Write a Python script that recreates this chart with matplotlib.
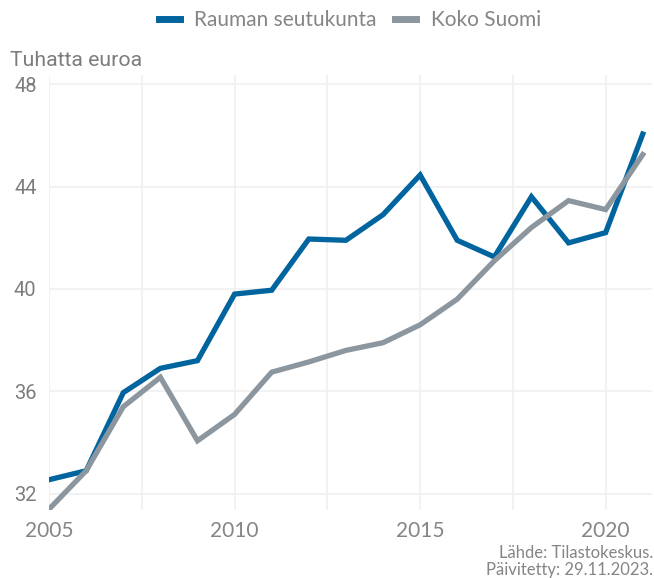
import numpy as np
import matplotlib
matplotlib.use("Agg")
from matplotlib import pyplot as plt

# data (tuhatta euroa)
years = list(range(2005, 2022))
rauma = [32.55, 32.9, 35.95, 36.9, 37.2, 39.8, 39.95, 41.95, 41.9, 42.9,
         44.45, 41.9, 41.25, 43.6, 41.8, 42.2, 46.05]
suomi = [31.4, 32.9, 35.4, 36.55, 34.07, 35.1, 36.75, 37.15, 37.6, 37.9,
         38.6, 39.6, 41.1, 42.4, 43.45, 43.1, 45.25]
series_names = ["Rauman seutukunta", "Koko Suomi"]
y_ticks = [32, 36, 40, 44, 48]
x_ticks = [2005, 2010, 2015, 2020]

blue = "#00649f"
grey = "#8c969f"
txt = "#7d7d7d"

fig = plt.figure(figsize=(6.54, 5.78), dpi=100)
ax = fig.add_axes([0.075, 0.118, 0.922, 0.752])

ax.plot(years, rauma, color=blue, lw=3.8, solid_joinstyle="miter", label=series_names[0], zorder=3)
ax.plot(years, suomi, color=grey, lw=3.8, solid_joinstyle="miter", label=series_names[1], zorder=3)

ax.set_xlim(2005, 2021.25)
ax.set_ylim(31.375, 48.35)
ax.set_yticks(y_ticks)
ax.set_xticks(x_ticks)
ax.set_xticks([2007.5, 2012.5, 2017.5], minor=True)
ax.grid(True, which="both", axis="x", color="#f0f0f0", lw=1.2, zorder=0)
ax.grid(True, which="major", axis="y", color="#f0f0f0", lw=1.2, zorder=0)
for s in ax.spines.values():
    s.set_visible(False)
ax.tick_params(which="both", length=0)
ax.tick_params(axis="y", pad=9)
ax.tick_params(axis="x", pad=8)
for lab in ax.get_yticklabels():
    lab.set_fontfamily("Roboto")
    lab.set_fontsize(14.5)
    lab.set_color(txt)
for lab in ax.get_xticklabels():
    lab.set_fontfamily("Lato")
    lab.set_fontsize(15)
    lab.set_color("#858585")

fig.text(10 / 654, 1 - 60 / 578, "Tuhatta euroa", fontsize=15.3, color=txt,
         family="Roboto", va="center", ha="left")

leg = fig.legend(loc="center", bbox_to_anchor=(0.535, 1 - 20 / 578), ncol=2, frameon=False,
                 handlelength=1.0, handletextpad=0.7, columnspacing=0.9,
                 prop={"family": "Lato", "size": 15})
for h in leg.get_lines():
    h.set_linewidth(5)
for t in leg.get_texts():
    t.set_color("#858585")

fig.text(0.999, 1 - 553 / 578, "Lähde: Tilastokeskus.", ha="right", va="center",
         fontsize=12, color="#858585", family="Lato")
fig.text(0.999, 1 - 570 / 578, "Päivitetty: 29.11.2023.", ha="right", va="center",
         fontsize=12, color="#858585", family="Lato")

fig.savefig("out.png", dpi=100)
